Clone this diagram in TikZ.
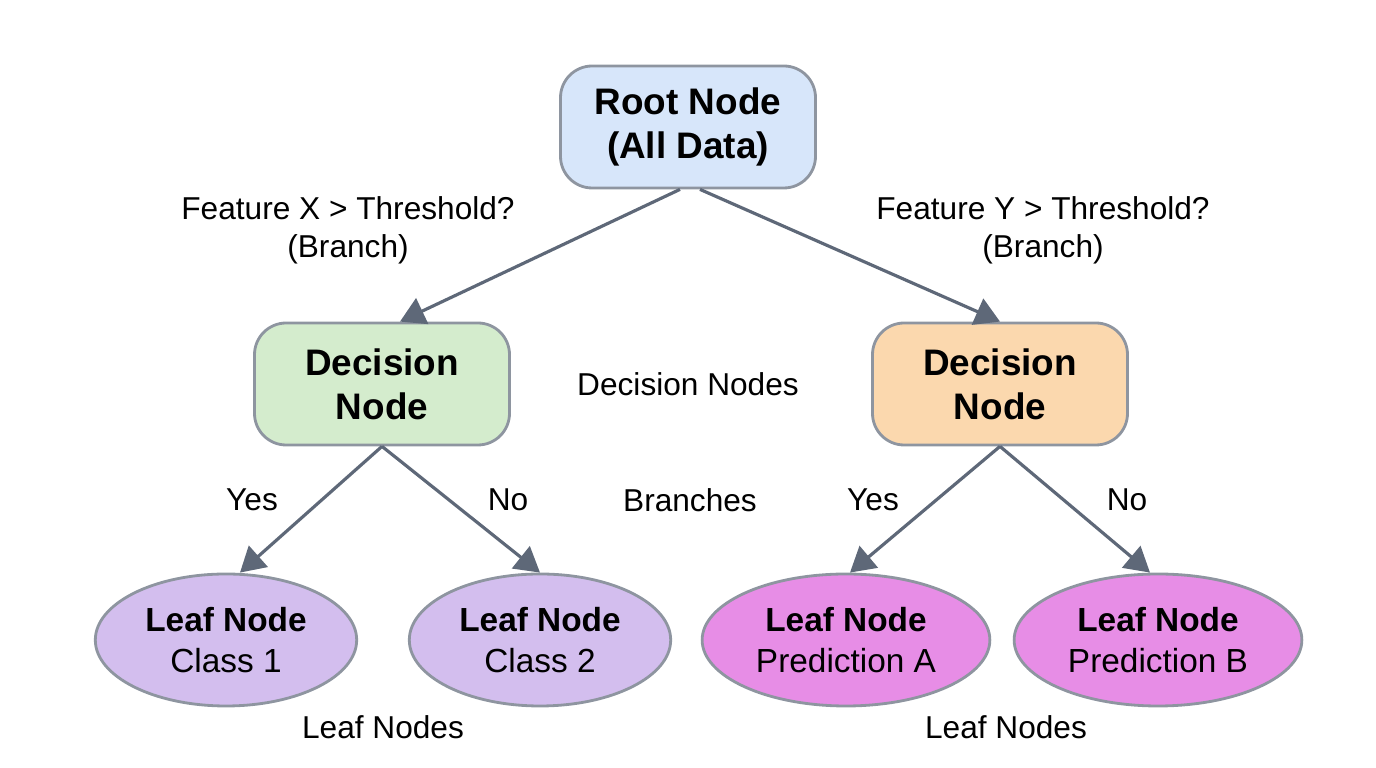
\documentclass[tikz,border=0pt]{standalone}
\usepackage{fontspec}
\setmainfont{Liberation Sans}
\usetikzlibrary{arrows.meta,shapes.geometric}
\definecolor{rootblue}{HTML}{D7E6FA}
\definecolor{decgreen}{HTML}{D4ECCD}
\definecolor{decorange}{HTML}{FBD8AE}
\definecolor{leafpurple}{HTML}{D3BEEE}
\definecolor{leafpink}{HTML}{E78DE6}
\definecolor{edgegray}{HTML}{5E6878}
\tikzset{
  box/.style={draw=edgegray!70, line width=0.8pt, rounded corners=9pt, minimum width=2.55cm, minimum height=1.22cm, align=center, font=\fontsize{10.5}{12.5}\selectfont\bfseries},
  leaf/.style={draw=edgegray!70, line width=0.8pt, ellipse, minimum width=2.52cm, minimum height=1.32cm, align=center, font=\fontsize{9.5}{11.5}\selectfont},
  lbl/.style={align=center, font=\fontsize{9}{10.8}\selectfont},
  branch/.style={draw=edgegray, line width=0.9pt, -{Triangle[length=7pt,width=8pt]}}
}
\begin{document}
\begin{tikzpicture}
\useasboundingbox (0,0) rectangle (13.76,7.68);
\node [box, fill=rootblue] (root) at (6.88,6.41) {Root Node\\(All Data)};
\node [box, fill=decgreen] (decl) at (3.82,3.84) {Decision\\Node};
\node [box, fill=decorange] (decr) at (10.0,3.84) {Decision\\Node};

\node [leaf, fill=leafpurple] (leaf1) at (2.26,1.28) {\textbf{Leaf Node}\\Class 1};
\node [leaf, fill=leafpurple] (leaf2) at (5.40,1.28) {\textbf{Leaf Node}\\Class 2};
\node [leaf, fill=leafpink] (leafa) at (8.46,1.28) {\textbf{Leaf Node}\\Prediction A};
\node [leaf, fill=leafpink] (leafb) at (11.58,1.28) {\textbf{Leaf Node}\\Prediction B};

\draw [branch] ([xshift=-0.08cm]root.south) -- ([xshift=0.18cm]decl.north);
\draw [branch] ([xshift=0.12cm]root.south) -- (decr.north);
\draw [branch] (decl.south) -- ([xshift=0.14cm]leaf1.north);
\draw [branch] (decl.south) -- (leaf2.north);
\draw [branch] (decr.south) -- ([xshift=0.04cm]leafa.north);
\draw [branch] (decr.south) -- ([xshift=-0.08cm]leafb.north);

\node [lbl] (qx) at (3.48,5.38) {Feature X > Threshold?\\(Branch)};
\node [lbl] (qy) at (10.43,5.38) {Feature Y > Threshold?\\(Branch)};
\node [lbl] (decnodes) at (6.88,3.84) {Decision Nodes};
\node [lbl] (branches) at (6.90,2.68) {Branches};
\node [lbl] (yesl) at (2.52,2.68) {Yes};
\node [lbl] (nol) at (5.08,2.68) {No};
\node [lbl] (yesr) at (8.73,2.68) {Yes};
\node [lbl] (nor) at (11.27,2.68) {No};
\node [lbl] (leavesl) at (3.83,0.41) {Leaf Nodes};
\node [lbl] (leavesr) at (10.06,0.41) {Leaf Nodes};
\end{tikzpicture}
\end{document}
